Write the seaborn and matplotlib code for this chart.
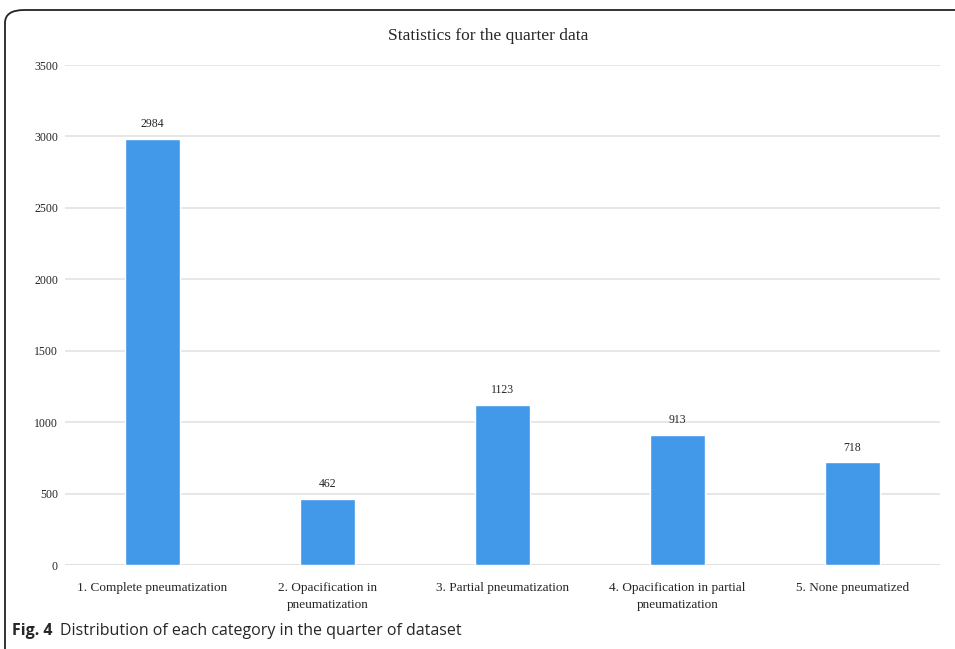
import matplotlib
matplotlib.use("Agg")
import matplotlib.pyplot as plt
from matplotlib.patches import FancyBboxPatch
import seaborn as sns
import pandas as pd

# Daten aus der Abbildung
categories = ["1. Complete pneumatization", "2. Opacification in\npneumatization",
              "3. Partial pneumatization", "4. Opacification in partial\npneumatization",
              "5. None pneumatized"]
counts = [2984, 462, 1123, 913, 718]
yticks = [0, 500, 1000, 1500, 2000, 2500, 3000, 3500]

df = pd.DataFrame({"category": categories, "count": counts})

sns.set_theme(style="white")
plt.rcParams["font.family"] = ["Liberation Serif", "DejaVu Serif"]

fig = plt.figure(figsize=(9.55, 6.49), dpi=100)
ax = fig.add_axes([0.068, 0.1294, 0.916, 0.7704])

sns.barplot(data=df, x="category", y="count", color="#4399e9", width=0.314,
            saturation=1, ax=ax)

ax.set_ylim(0, 3500)
ax.set_yticks(yticks)
ax.set_yticklabels([str(t) for t in yticks], fontsize=8.5)
ax.set_xticks(range(len(categories)))
ax.set_xticklabels(categories, fontsize=9.5, linespacing=1.55, va="top")
ax.tick_params(axis="x", pad=12, length=0)
ax.tick_params(axis="y", pad=5, length=0)
ax.set_xlabel("")
ax.set_ylabel("")
ax.grid(axis="y", color="#e3e3e3", linewidth=1.2)
ax.set_axisbelow(True)
for s in ax.spines.values():
    s.set_visible(False)
ax.axhline(0, color="#d0d0d0", linewidth=1.2, zorder=0)

for i, v in enumerate(counts):
    ax.text(i, v + 60, str(v), ha="center", va="bottom", fontsize=8.5)

fig.text(0.511, 1 - 36 / 649, "Statistics for the quarter data", ha="center", va="center",
         fontsize=12.5)

# Rahmen wie im Artikel
frame = FancyBboxPatch((5 / 955, -0.05), 1.2, 0.05 + 1 - 10 / 649,
                       boxstyle="round,pad=0,rounding_size=0.02",
                       transform=fig.transFigure, fill=False,
                       edgecolor="#222222", linewidth=1.3, clip_on=False)
fig.add_artist(frame)

fig.text(12 / 955, 1 - 631 / 649, "Fig. 4", fontsize=11.5, fontweight="bold",
         family=["Open Sans", "DejaVu Sans"], va="center")
fig.text(60 / 955, 1 - 631 / 649, "Distribution of each category in the quarter of dataset",
         fontsize=11.5, family=["Open Sans", "DejaVu Sans"], va="center")

fig.savefig("out.png", dpi=100)
